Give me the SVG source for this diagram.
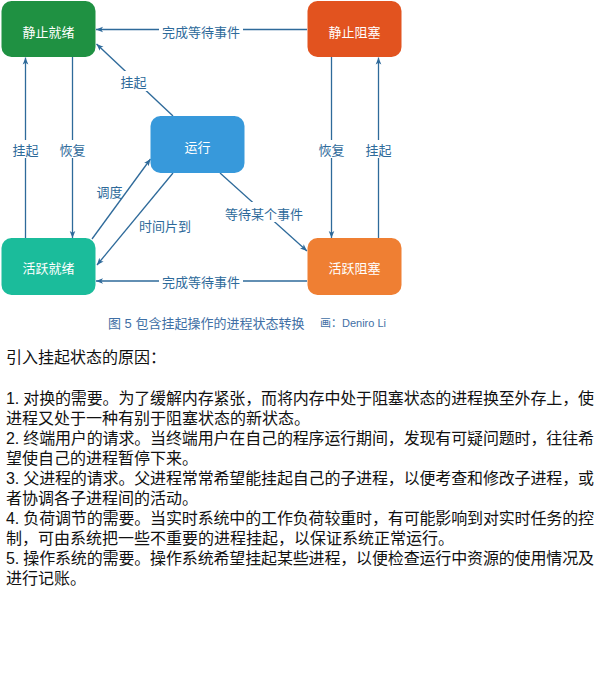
<svg xmlns="http://www.w3.org/2000/svg" width="606" height="688" viewBox="0 0 606 688">
<style>
.node-text{font-family:"Noto Sans CJK SC","Liberation Sans",sans-serif;font-size:13px;fill:#ffffff;text-anchor:middle;dominant-baseline:central}
.conn{fill:none;stroke:#2e6a9a;stroke-width:1.3}
.lbl{font-family:"Noto Sans CJK SC","Liberation Sans",sans-serif;font-size:13px;fill:#2e6a9a;text-anchor:middle;dominant-baseline:central}
.bg{fill:#ffffff}
.cap{font-family:"Liberation Sans","Noto Sans CJK SC",sans-serif;font-size:13px;fill:#3f6fa5}
.cap2{font-family:"Liberation Sans","Noto Sans CJK SC",sans-serif;font-size:11px;fill:#3f6fa5}
.body{font-family:"Liberation Sans","Noto Sans CJK SC",sans-serif;font-size:16px;fill:#111111}
</style>
<defs>
<marker id="arr" viewBox="0 0 10 10" refX="10" refY="5" markerWidth="7" markerHeight="7" markerUnits="userSpaceOnUse" orient="auto">
<path d="M0,1 L10,5 L0,9 L2.5,5 z" fill="#2e6a9a"/>
</marker>
</defs>
<rect width="606" height="688" fill="#ffffff"/>

<g id="connectors">
<path class="conn" d="M307,29.5 L96,29.5" marker-end="url(#arr)"/>
<path class="conn" d="M173,116 L96.5,44" marker-end="url(#arr)"/>
<path class="conn" d="M25.5,238 L25.5,57.5" marker-end="url(#arr)"/>
<path class="conn" d="M72.5,57 L72.5,238" marker-end="url(#arr)"/>
<path class="conn" d="M92,239 L150.5,159" marker-end="url(#arr)"/>
<path class="conn" d="M173,173 L97,265" marker-end="url(#arr)"/>
<path class="conn" d="M220,173 L307,251" marker-end="url(#arr)"/>
<path class="conn" d="M307,281 L96,281" marker-end="url(#arr)"/>
<path class="conn" d="M331.5,57 L331.5,238" marker-end="url(#arr)"/>
<path class="conn" d="M378.5,238 L378.5,57.5" marker-end="url(#arr)"/>
</g>

<g id="edge-labels">
<rect class="bg" x="159" y="23" width="84" height="14"/>
<text class="lbl" x="201" y="31">完成等待事件</text>
<rect class="bg" x="119" y="71" width="29" height="20"/>
<text class="lbl" x="133.5" y="81">挂起</text>
<rect class="bg" x="10" y="140" width="31" height="18"/>
<text class="lbl" x="25.5" y="149.5">挂起</text>
<rect class="bg" x="57" y="140" width="31" height="18"/>
<text class="lbl" x="72.5" y="149.5">恢复</text>
<text class="lbl" x="109.5" y="191">调度</text>
<text class="lbl" x="165" y="225">时间片到</text>
<rect class="bg" x="223" y="202" width="82" height="20"/>
<text class="lbl" x="264" y="213">等待某个事件</text>
<rect class="bg" x="159" y="274" width="84" height="14"/>
<text class="lbl" x="201" y="281">完成等待事件</text>
<rect class="bg" x="316" y="140" width="31" height="18"/>
<text class="lbl" x="331.5" y="149.5">恢复</text>
<rect class="bg" x="363" y="140" width="31" height="18"/>
<text class="lbl" x="378.5" y="149.5">挂起</text>
</g>

<g id="static-ready">
<rect x="1.5" y="1" width="94" height="56" rx="10" fill="#1f9142"/>
<text class="node-text" x="48.5" y="31">静止就绪</text>
</g>
<g id="static-blocked">
<rect x="307.5" y="1" width="94" height="56" rx="10" fill="#e2531f"/>
<text class="node-text" x="354.5" y="31">静止阻塞</text>
</g>
<g id="running">
<rect x="150.5" y="116" width="94" height="57" rx="10" fill="#3799db"/>
<text class="node-text" x="197.5" y="146">运行</text>
</g>
<g id="active-ready">
<rect x="1.5" y="238" width="94" height="57" rx="10" fill="#1bbc9b"/>
<text class="node-text" x="48.5" y="267.5">活跃就绪</text>
</g>
<g id="active-blocked">
<rect x="307.5" y="238" width="94" height="57" rx="10" fill="#ef7f33"/>
<text class="node-text" x="354.5" y="267.5">活跃阻塞</text>
</g>

<g id="caption">
<text class="cap" x="108" y="328">图 5 包含挂起操作的进程状态转换</text>
<text class="cap2" x="320" y="327">画：Deniro Li</text>
</g>

<g id="body">
<text class="body" x="6" y="363">引入挂起状态的原因：</text>
<text class="body" x="6" y="404" textLength="588" lengthAdjust="spacing">1. 对换的需要。为了缓解内存紧张，而将内存中处于阻塞状态的进程换至外存上，使</text>
<text class="body" x="6" y="424">进程又处于一种有别于阻塞状态的新状态。</text>
<text class="body" x="6" y="444" textLength="588" lengthAdjust="spacing">2. 终端用户的请求。当终端用户在自己的程序运行期间，发现有可疑问题时，往往希</text>
<text class="body" x="6" y="464">望使自己的进程暂停下来。</text>
<text class="body" x="6" y="484" textLength="588" lengthAdjust="spacing">3. 父进程的请求。父进程常常希望能挂起自己的子进程，以便考查和修改子进程，或</text>
<text class="body" x="6" y="504">者协调各子进程间的活动。</text>
<text class="body" x="6" y="524" textLength="588" lengthAdjust="spacing">4. 负荷调节的需要。当实时系统中的工作负荷较重时，有可能影响到对实时任务的控</text>
<text class="body" x="6" y="544">制，可由系统把一些不重要的进程挂起，以保证系统正常运行。</text>
<text class="body" x="6" y="564" textLength="588" lengthAdjust="spacing">5. 操作系统的需要。操作系统希望挂起某些进程，以便检查运行中资源的使用情况及</text>
<text class="body" x="6" y="584">进行记账。</text>
</g>
</svg>
